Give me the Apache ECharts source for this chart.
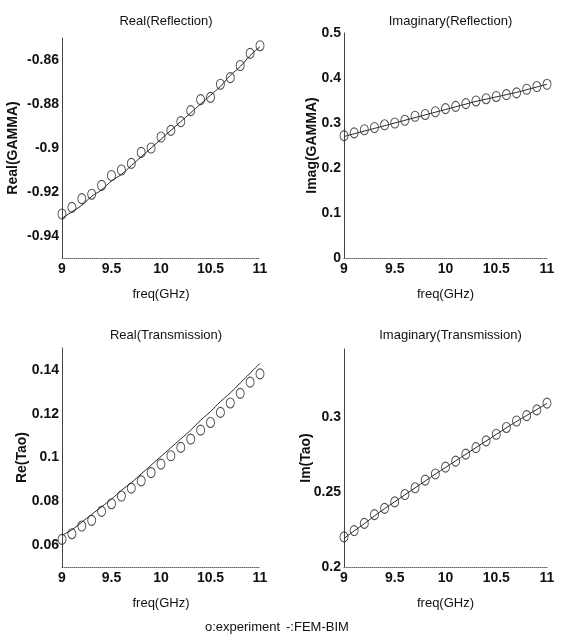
<!DOCTYPE html>
<html>
<head>
<meta charset="utf-8">
<script src="https://cdn.jsdelivr.net/npm/echarts@6/dist/echarts.min.js"></script>
<style>
  html, body { margin: 0; padding: 0; background: #fff; }
  #chart { width: 563px; height: 640px; }
</style>
</head>
<body>
<div id="chart"></div>
<script>
// frequency points (GHz)
var freq = [9, 9.1, 9.2, 9.3, 9.4, 9.5, 9.6, 9.7, 9.8, 9.9, 10, 10.1, 10.2, 10.3, 10.4, 10.5, 10.6, 10.7, 10.8, 10.9, 11];

// Real(GAMMA)
var reGammaExp = [-0.930, -0.927, -0.923, -0.921, -0.917, -0.9125, -0.910, -0.907, -0.902, -0.900, -0.895, -0.892, -0.888, -0.883, -0.878, -0.877, -0.871, -0.868, -0.8625, -0.857, -0.8535];
var reGammaFem = [-0.932, -0.929, -0.926, -0.922, -0.919, -0.915, -0.912, -0.908, -0.904, -0.900, -0.896, -0.892, -0.888, -0.884, -0.880, -0.876, -0.872, -0.867, -0.863, -0.858, -0.854];
// Imag(GAMMA)
var imGammaExp = [0.272, 0.278, 0.285, 0.290, 0.296, 0.300, 0.306, 0.315, 0.319, 0.325, 0.332, 0.337, 0.343, 0.349, 0.354, 0.359, 0.363, 0.367, 0.375, 0.381, 0.386];
var imGammaFem = [0.270, 0.276, 0.282, 0.288, 0.294, 0.300, 0.306, 0.312, 0.318, 0.324, 0.330, 0.336, 0.342, 0.348, 0.353, 0.358, 0.363, 0.368, 0.374, 0.380, 0.386];
// Re(Tao)
var reTaoExp = [0.0626, 0.0652, 0.0687, 0.0713, 0.0754, 0.0789, 0.0824, 0.0860, 0.0893, 0.0931, 0.0970, 0.1008, 0.1046, 0.1084, 0.1125, 0.1160, 0.1206, 0.1249, 0.1293, 0.1344, 0.1382];
var reTaoFem = [0.0645, 0.0670, 0.0705, 0.0740, 0.0775, 0.0810, 0.0850, 0.0885, 0.0925, 0.0965, 0.1005, 0.1045, 0.1085, 0.1125, 0.1170, 0.1210, 0.1255, 0.1295, 0.1340, 0.1385, 0.1430];
// Im(Tao)
var imTaoExp = [0.2200, 0.2242, 0.2290, 0.2348, 0.2390, 0.2433, 0.2482, 0.2527, 0.2578, 0.2619, 0.2664, 0.2704, 0.2751, 0.2794, 0.2839, 0.2883, 0.2928, 0.2971, 0.3007, 0.3045, 0.3090];
var imTaoFem = [0.2190, 0.2240, 0.2288, 0.2340, 0.2388, 0.2434, 0.2480, 0.2526, 0.2572, 0.2618, 0.2662, 0.2706, 0.2750, 0.2794, 0.2838, 0.2882, 0.2926, 0.2968, 0.3008, 0.3048, 0.3088];

// tick labels shown on each y axis
var reGammaTicks = [-0.94, -0.92, -0.9, -0.88, -0.86];
var imGammaTicks = [0, 0.1, 0.2, 0.3, 0.4, 0.5];
var reTaoTicks = [0.06, 0.08, 0.1, 0.12, 0.14];
var imTaoTicks = [0.2, 0.25, 0.3];
var freqTicks = [9, 9.5, 10, 10.5, 11];

var titles = ['Real(Reflection)', 'Imaginary(Reflection)', 'Real(Transmission)', 'Imaginary(Transmission)'];
var yNames = ['Real(GAMMA)', 'Imag(GAMMA)', 'Re(Tao)', 'Im(Tao)'];

var FONT = "'Liberation Sans Narrow', 'Liberation Sans', Arial, sans-serif";

function pairs(ys) {
    return freq.map(function (f, i) { return [f, ys[i]]; });
}
function tickFormatter(list) {
    return function (v) {
        for (var i = 0; i < list.length; i++) {
            if (Math.abs(list[i] - v) < 1e-6) return String(list[i]);
        }
        return '';
    };
}

var grids = [
    {left: 62, top: 38, width: 198, height: 220},
    {left: 344, top: 33, width: 203, height: 225},
    {left: 62, top: 348, width: 198, height: 219},
    {left: 344, top: 349, width: 203, height: 218}
];
var yRanges = [
    {min: -0.95, max: -0.85, interval: 0.01, ticks: reGammaTicks},
    {min: 0, max: 0.5, interval: 0.1, ticks: imGammaTicks},
    {min: 0.05, max: 0.15, interval: 0.01, ticks: reTaoTicks},
    {min: 0.2, max: 0.345, interval: 0.05, ticks: imTaoTicks}
];
var yNameGap = [42, 25, 33, 31];

var chart = echarts.init(document.getElementById('chart'));

var xAxes = [], yAxes = [], series = [], titleList = [];
grids.forEach(function (g, i) {
    xAxes.push({
        type: 'value', gridIndex: i, min: 9, max: 11, interval: 0.5,
        name: 'freq(GHz)', nameLocation: 'middle', nameGap: 30,
        nameTextStyle: {color: '#111', fontSize: 13, fontFamily: FONT},
        axisLine: {show: true, lineStyle: {color: '#666', width: 1, type: 'dotted'}},
        axisTick: {show: false},
        splitLine: {show: false},
        axisLabel: {color: '#111', fontSize: 14, fontWeight: 'bold', fontFamily: FONT, margin: 4,
            formatter: tickFormatter(freqTicks)}
    });
    var r = yRanges[i];
    yAxes.push({
        type: 'value', gridIndex: i, min: r.min, max: r.max, interval: r.interval,
        name: yNames[i], nameLocation: 'middle', nameGap: yNameGap[i], nameRotate: 90,
        nameMoveOverlap: false,
        nameTextStyle: {color: '#111', fontSize: 14, fontWeight: 'bold', fontFamily: FONT},
        axisLine: {show: true, lineStyle: {color: '#444', width: 1}},
        axisTick: {show: false},
        splitLine: {show: false},
        axisLabel: {color: '#111', fontSize: 14, fontWeight: 'bold', fontFamily: FONT, margin: 3,
            showMaxLabel: i === 3 ? false : null,
            formatter: tickFormatter(r.ticks)}
    });
    titleList.push({
        text: titles[i],
        left: g.left + g.width / 2, top: i < 2 ? 10 : 324,
        textAlign: 'center',
        textStyle: {color: '#111', fontSize: 13, fontWeight: 'normal', fontFamily: FONT}
    });
});

var expData = [reGammaExp, imGammaExp, reTaoExp, imTaoExp];
var femData = [reGammaFem, imGammaFem, reTaoFem, imTaoFem];
for (var i = 0; i < 4; i++) {
    series.push({
        name: 'FEM-BIM', type: 'line', xAxisIndex: i, yAxisIndex: i,
        data: pairs(femData[i]), showSymbol: false, smooth: true,
        lineStyle: {color: '#222', width: 1}, z: 2
    });
    series.push({
        name: 'experiment', type: 'scatter', xAxisIndex: i, yAxisIndex: i,
        data: pairs(expData[i]), symbol: 'circle', symbolSize: [8, 10],
        itemStyle: {color: 'rgba(0,0,0,0)', borderColor: '#222', borderWidth: 1}, z: 3
    });
}

chart.setOption({
    backgroundColor: '#fff',
    animation: false,
    title: titleList,
    grid: grids,
    xAxis: xAxes,
    yAxis: yAxes,
    series: series,
    graphic: [
        {type: 'text', left: 205, top: 621,
            style: {text: 'o:experiment', fill: '#111', font: '13px ' + FONT}},
        {type: 'text', left: 286, top: 621,
            style: {text: '-:FEM-BIM', fill: '#111', font: '13px ' + FONT}}
    ]
});
</script>
</body>
</html>
